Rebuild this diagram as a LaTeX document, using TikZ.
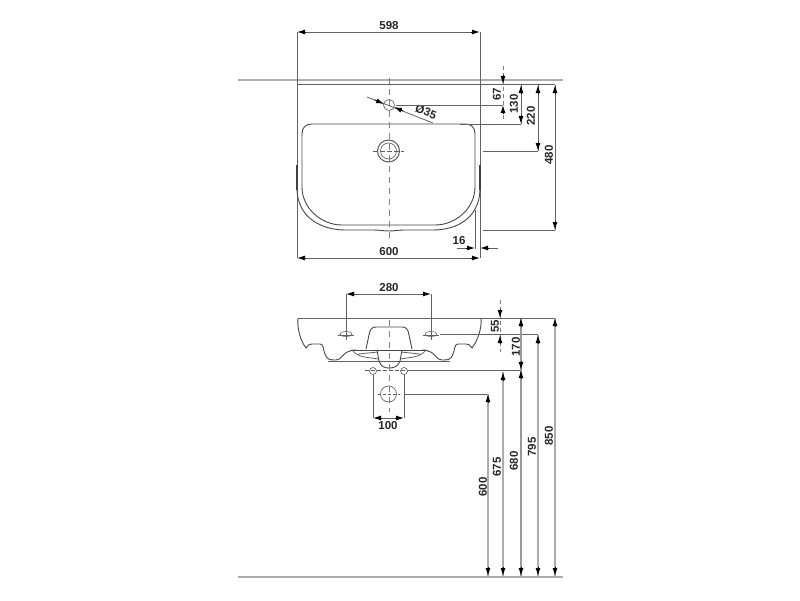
\documentclass[tikz,border=0pt]{standalone}
\usepackage{fontspec}
\setmainfont{Liberation Sans}
\usetikzlibrary{arrows.meta,shapes.geometric}
\tikzset{
  thinl/.style={draw=black!62,line width=.8pt},
  pale/.style={draw=black!32,line width=1.1pt},
  outl/.style={draw=black!72,line width=.9pt},
  heavy/.style={draw=black!75,line width=1.3pt},
  cen/.style={draw=black!50,line width=.9pt,dash pattern=on 6pt off 5pt},
  hd/.style={draw=black,line width=1pt,-{Latex[length=8pt,width=5pt]}},
  lab/.style={font=\bfseries\fontsize{11.5}{12}\selectfont,text=black!85,inner sep=0pt},
  vlab/.style={lab,rotate=90}
}
\begin{document}
\begin{tikzpicture}[x=1pt,y=-1pt]
\useasboundingbox (0,0) rectangle (800,600);
% ---------- plan view ----------
\draw[pale] (238,80) -- (563,80);
\draw[thinl] (297,84) -- (555,84);
\draw[thinl] (297,32) -- (297,258);
\draw[thinl] (480,32) -- (480,258);
\draw[thinl] (306,32) -- (471,32);
\draw[hd] (306,32) -- (297,32);
\draw[hd] (471,32) -- (480,32);
\node[lab] (t598) at (389,26) {598};
% basin outer
\draw[heavy] (297,165) -- (297,190);
\draw[heavy] (480,165) -- (480,190);
\draw[outl] (297,190) .. controls (298,218) and (322,230) .. (345,230) -- (372,230) .. controls (380,230) and (384,231) .. (389,231) .. controls (394,231) and (398,230) .. (406,230) -- (433,230) .. controls (457,230) and (479,218) .. (480,190);
% basin inner
\draw[outl] (302,187) -- (302,134) .. controls (302,127) and (306,124) .. (312,124) -- (465,124) .. controls (471,124) and (475,127) .. (475,134) -- (475,187) .. controls (475,208) and (456,225) .. (435,225) -- (342,225) .. controls (321,225) and (302,208) .. (302,187);
% centre line
\draw[cen] (389,78) -- (389,238);
% tap hole
\node[draw=black!60,line width=.7pt,circle,minimum size=11pt,inner sep=0pt] (taphole) at (389,105) {};
\coordinate (lead1) at (367,97);
\coordinate (lead2) at (433,123);
\draw[thinl] (lead1) -- (lead2);
\draw[hd] (375,100) -- (384,104);
\draw[hd] (403,111) -- (394,107);
\node[lab,rotate=-22] (d35) at (426,112) {Ø35};
\draw[thinl] (396,105) -- (503,105);
% drain
\node[draw=black!65,line width=1pt,circle,minimum size=22pt,inner sep=0pt] (drainA) at (388.5,151) {};
\node[draw=black!60,line width=.7pt,circle,minimum size=16pt,inner sep=0pt] (drainB) at (388.5,151) {};
\draw[thinl,dash pattern=on 5pt off 2pt] (373,151) -- (404,151);
% right dims
\draw[cen,dash pattern=on 4pt off 3pt] (503,66) -- (503,122);
\draw[hd] (503,75) -- (503,84);
\draw[hd] (503,114) -- (503,105);
\node[vlab] (t67) at (497,94) {67};
\draw[thinl] (521,85) -- (521,124);
\draw[hd] (521,94) -- (521,85);
\draw[hd] (521,115) -- (521,124);
\draw[thinl] (460,124) -- (521,124);
\node[vlab] (t130) at (514,104) {130};
\draw[thinl] (538,85) -- (538,151);
\draw[hd] (538,94) -- (538,85);
\draw[hd] (538,142) -- (538,151);
\draw[thinl] (483,151) -- (538,151);
\node[vlab] (t220) at (531,116) {220};
\draw[thinl] (555,85) -- (555,230);
\draw[hd] (555,94) -- (555,85);
\draw[hd] (555,221) -- (555,230);
\draw[thinl] (483,230) -- (555,230);
\node[vlab] (t480) at (549,155) {480};
% 16
\draw[thinl] (475,210) -- (475,249);
\draw[thinl] (457,248) -- (466,248);
\draw[thinl] (489,248) -- (498,248);
\draw[hd] (466,248) -- (475,248);
\draw[hd] (489,248) -- (480,248);
\node[lab] (t16) at (459,241) {16};
% 600
\draw[thinl] (306,258) -- (471,258);
\draw[hd] (306,258) -- (297,258);
\draw[hd] (471,258) -- (480,258);
\node[lab] (t600h) at (389,252) {600};
% ---------- front view ----------
\draw[thinl] (346,294) -- (346,340);
\draw[thinl] (431,294) -- (431,340);
\draw[thinl] (355,294) -- (422,294);
\draw[hd] (355,294) -- (346,294);
\draw[hd] (422,294) -- (431,294);
\node[lab] (t280) at (389,288) {280};
\draw[thinl] (298,318) -- (555,318);
% left half of profile
\draw[outl] (298,318) .. controls (297,328) and (300,340) .. (306,348) .. controls (307,345) and (310,344) .. (312,344) -- (320,344) .. controls (324,344) and (323,350) .. (325,354) .. controls (327,360) and (330,360) .. (336,360) .. controls (342,360) and (342,353) .. (350,351) .. controls (352,350) and (354,350) .. (356,350);
% right half of profile
\draw[outl] (481,318) .. controls (482,328) and (478,340) .. (472,348) .. controls (471,345) and (468,344) .. (466,344) -- (458,344) .. controls (454,344) and (455,350) .. (453,354) .. controls (451,360) and (448,360) .. (442,360) .. controls (436,360) and (436,353) .. (428,351) .. controls (426,350) and (424,350) .. (422,350);
\draw[thinl] (328,361) -- (450,361);
\draw[outl] (350,350) -- (428,350);
% trapezoid
\draw[outl] (366,349) -- (369,335) .. controls (370,329) and (372,327) .. (376,327) -- (402,327) .. controls (406,327) and (408,329) .. (409,335) -- (412,349);
% siphon
\draw[outl] (377,350) -- (379,361) .. controls (381,367) and (385,368) .. (389,368) .. controls (393,368) and (398,367) .. (400,361) -- (402,350);
\draw[thinl] (352,350) .. controls (358,358) and (368,357) .. (378,359);
\draw[thinl] (426,350) .. controls (420,358) and (410,357) .. (401,359);
\draw[thinl] (358,354) -- (378,352);
\draw[thinl] (420,354) -- (401,352);
\draw[cen] (389,320) -- (389,412);
% wall holes in basin
\node[draw=black!60,line width=.6pt,ellipse,minimum width=12pt,minimum height=5pt,inner sep=0pt] (hl) at (346,334) {};
\node[draw=black!60,line width=.6pt,ellipse,minimum width=12pt,minimum height=5pt,inner sep=0pt] (hr) at (431,334) {};
\draw[thinl] (338,335) -- (354,335);
\draw[thinl] (423,335) -- (439,335);
\draw[thinl] (440,334) -- (538,334);
% fixings
\node[draw=black!60,line width=.7pt,circle,minimum size=7pt,inner sep=0pt] (fl) at (373,371) {};
\node[draw=black!60,line width=.7pt,circle,minimum size=7pt,inner sep=0pt] (fr) at (404,371) {};
\draw[thinl,dash pattern=on 4pt off 2pt] (365,370.5) -- (407,370.5);
\draw[thinl] (407,370.5) -- (521,370.5);
\draw[thinl] (373,375) -- (373,418);
\draw[thinl] (404,375) -- (404,418);
\node[draw=black!60,line width=.7pt,circle,minimum size=16pt,inner sep=0pt] (wp) at (388.5,394) {};
\draw[thinl,dash pattern=on 3pt off 2pt] (378,394) -- (400,394);
\draw[thinl] (404,394) -- (488,394);
% 100
\draw[thinl] (382,418) -- (395,418);
\draw[hd] (382,418) -- (373,418);
\draw[hd] (395,418) -- (404,418);
\node[lab] (t100) at (388,426) {100};
% 55 / 170
\draw[cen,dash pattern=on 4pt off 3pt] (500,300) -- (500,352);
\draw[hd] (500,309) -- (500,318);
\draw[hd] (500,344) -- (500,335);
\node[vlab] (t55) at (495,326) {55};
\draw[pale,draw=black!40] (521,319) -- (521,577);
\draw[hd] (521,327) -- (521,318);
\draw[hd] (521,361) -- (521,370);
\draw[hd] (521,379) -- (521,370);
\node[vlab] (t170) at (516,347) {170};
% floor and long dims
\draw[pale] (238,577) -- (563,577);
\draw[pale] (488,394) -- (488,577);
\draw[pale] (503,372) -- (503,577);
\draw[pale] (538,335) -- (538,577);
\draw[pale] (555,318) -- (555,577);
\draw[hd] (488,403) -- (488,394);
\draw[hd] (503,381) -- (503,372);
\draw[hd] (538,344) -- (538,335);
\draw[hd] (555,327) -- (555,318);
\draw[hd] (488,567) -- (488,576);
\draw[hd] (503,567) -- (503,576);
\draw[hd] (521,567) -- (521,576);
\draw[hd] (538,567) -- (538,576);
\draw[hd] (555,567) -- (555,576);
\node[vlab] (t600v) at (483,487) {600};
\node[vlab] (t675) at (497,467) {675};
\node[vlab] (t680) at (514,461) {680};
\node[vlab] (t795) at (532,447) {795};
\node[vlab] (t850) at (549,436) {850};
\end{tikzpicture}
\end{document}
